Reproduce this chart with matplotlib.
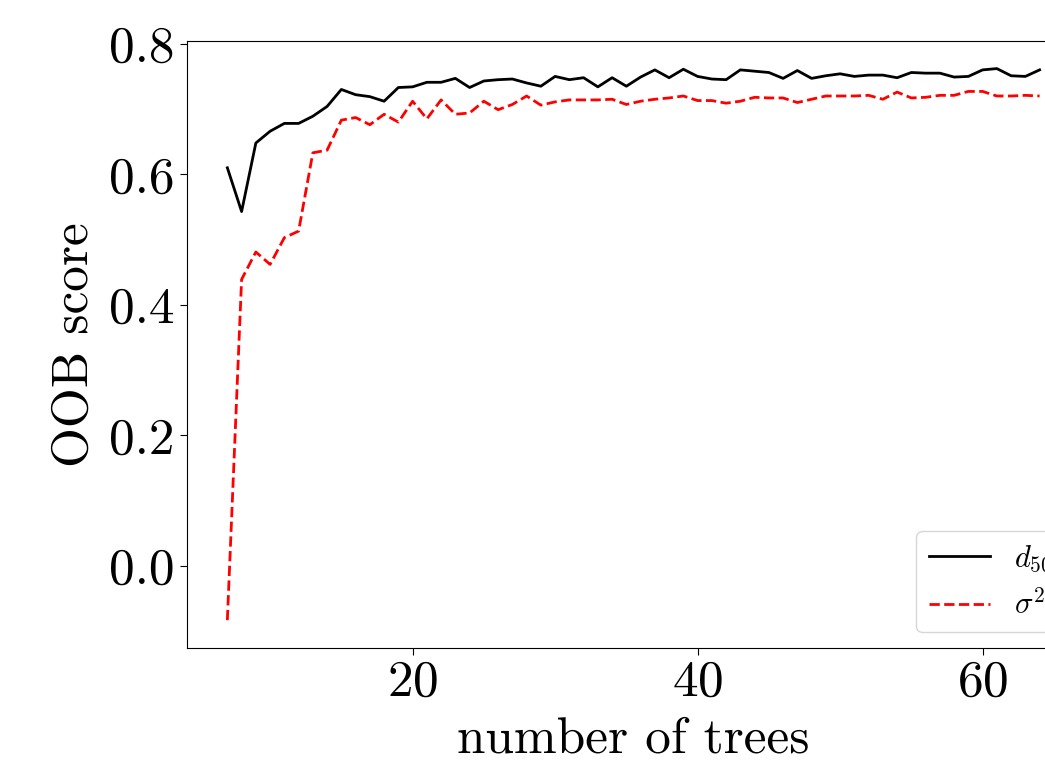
import matplotlib
matplotlib.use("Agg")
import matplotlib.pyplot as plt
import numpy as np

plt.rcParams["font.family"] = "serif"
plt.rcParams["font.serif"] = ["cmr10", "DejaVu Serif"]
plt.rcParams["mathtext.fontset"] = "cm"
plt.rcParams["axes.unicode_minus"] = False
plt.rcParams["axes.formatter.use_mathtext"] = True

n_trees = np.arange(7, 65)

d50 = [0.610, 0.543, 0.648, 0.666, 0.678, 0.678, 0.689, 0.704, 0.730, 0.722,
       0.719, 0.712, 0.733, 0.734, 0.741, 0.741, 0.747, 0.733, 0.743, 0.745,
       0.746, 0.740, 0.735, 0.750, 0.745, 0.748, 0.734, 0.748, 0.735, 0.749,
       0.760, 0.748, 0.761, 0.750, 0.746, 0.745, 0.760, 0.758, 0.756, 0.747,
       0.759, 0.747, 0.751, 0.754, 0.750, 0.752, 0.752, 0.748, 0.756, 0.755,
       0.755, 0.749, 0.750, 0.760, 0.762, 0.751, 0.750, 0.760]

sigma2 = [-0.083, 0.439, 0.481, 0.462, 0.503, 0.513, 0.633, 0.637, 0.683, 0.687,
          0.676, 0.692, 0.680, 0.712, 0.685, 0.714, 0.692, 0.694, 0.712, 0.699,
          0.707, 0.720, 0.706, 0.711, 0.714, 0.714, 0.714, 0.715, 0.707, 0.712,
          0.715, 0.717, 0.720, 0.713, 0.713, 0.709, 0.712, 0.718, 0.717, 0.717,
          0.710, 0.715, 0.720, 0.720, 0.720, 0.721, 0.715, 0.726, 0.717, 0.718,
          0.721, 0.721, 0.727, 0.727, 0.720, 0.720, 0.721, 0.720]

fig = plt.figure(figsize=(10.45, 7.65), dpi=100)
ax = fig.add_axes([0.1787, 0.1533, 0.855, 0.7931])

ax.plot(n_trees, d50, "k-", lw=2, label="$d_{50}$")
ax.plot(n_trees, sigma2, "r--", lw=2, label="$\\sigma^2$")

ax.set_xticks([20, 40, 60])
ax.set_yticks([0.0, 0.2, 0.4, 0.6, 0.8])
ax.set_yticklabels(["0.0", "0.2", "0.4", "0.6", "0.8"])
ax.tick_params(labelsize=37, length=5)
ax.set_xlabel("number of trees", fontsize=37, labelpad=8)
ax.set_ylabel("OOB score", fontsize=37, labelpad=8)
ax.legend(loc="lower right", fontsize=22)

fig.savefig("out.png", dpi=100)
